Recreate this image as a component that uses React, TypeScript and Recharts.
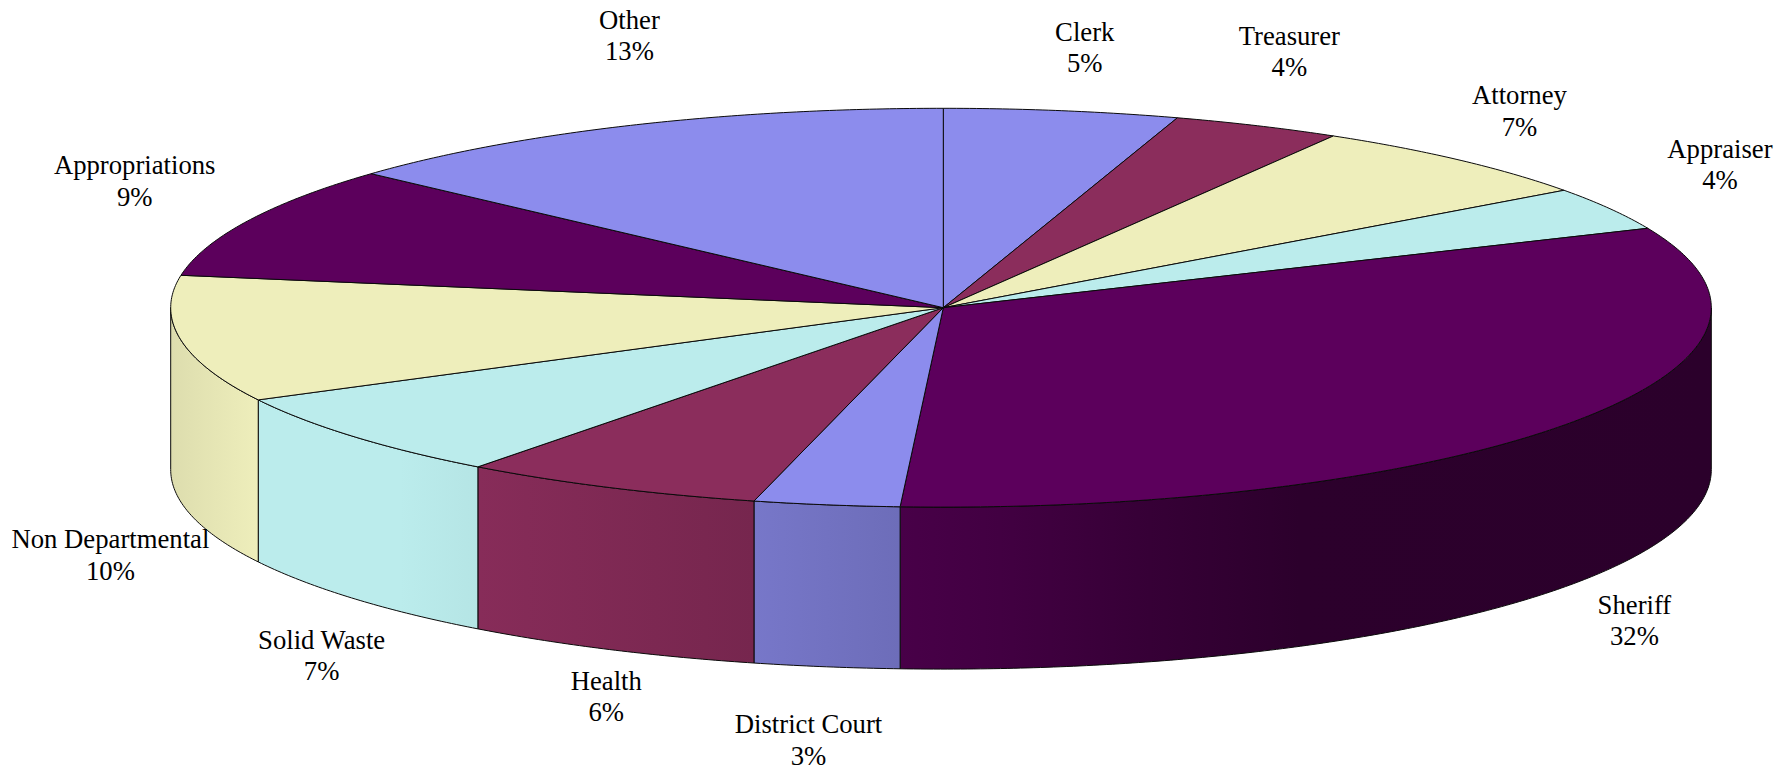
import React from "react";
import { PieChart, Pie } from "recharts";

// ---- data ----
const CATEGORIES = ["Clerk", "Treasurer", "Attorney", "Appraiser", "Sheriff", "District Court", "Health", "Solid Waste", "Non Departmental", "Appropriations", "Other"];
const SHARES = [4.93, 3.55, 6.5, 3.5, 32.41, 3.05, 6.35, 7.06, 10.25, 9.13, 13.27];
const SHARE_LABELS = ["5%", "4%", "7%", "4%", "32%", "3%", "6%", "7%", "10%", "9%", "13%"];
const COLORS = ["#8c8ced", "#8b2d5c", "#eeeebb", "#bbecec", "#5c005c"];
const SLICE_COLORS = [0, 1, 2, 3, 4, 0, 1, 3, 2, 4, 0].map((i) => COLORS[i]);

// ---- layout ----
const WIDTH = 1790;
const HEIGHT = 770;
const CX = 943.3;
const CY = 307.7;
const RADIUS = 770;
const RIGHT_SCALE = 768 / 770; // the ellipse's right half is a little narrower than its left half
const LEFT_SCALE = 772.6 / 770;
const TILT = 199.4 / 770;
const DEPTH = 162;
const FONT_SIZE = 26.7;
const LINE_GAP = 31.5;
// label centre relative to the slice's rim midpoint
const LABEL_NUDGE = [[23, -63], [32, -74], [60, -49], [110, -44], [61, 199], [-18, 235], [-3, 209], [-32, 219], [-70, 216], [-113, -40], [-1, -90]];
// side-wall lighting: [screen x, brightness]
const SHADE = [[171, 0.93], [258, 1], [400, 1], [478, 0.97], [754, 0.85], [900, 0.78], [1000, 0.72], [1150, 0.59], [1300, 0.48], [1711, 0.47]];

const rows = CATEGORIES.map((name, i) => ({ name, value: SHARES[i], share: SHARE_LABELS[i], fill: SLICE_COLORS[i] }));

const dim = (hex: string, k: number) => {
  const n = parseInt(hex.slice(1), 16);
  const c = [(n >> 16) & 255, (n >> 8) & 255, n & 255].map((v) => Math.round(v * k));
  return `rgb(${c[0]},${c[1]},${c[2]})`;
};

const rim = (cx: number, cy: number, r: number, deg: number) => {
  const a = (deg * Math.PI) / 180;
  const c = Math.cos(a);
  return [cx + r * c * (c >= 0 ? RIGHT_SCALE : LEFT_SCALE), cy - r * TILT * Math.sin(a)];
};

// points along the rim from angle a to angle b, a step of about half a degree
const rimPoints = (cx: number, cy: number, r: number, a: number, b: number) => {
  const n = Math.max(2, Math.ceil(Math.abs(b - a) * 2));
  return Array.from({ length: n + 1 }, (_, i) => rim(cx, cy, r, a + ((b - a) * i) / n));
};

const pathOf = (pts: number[][]) => pts.map(([x, y], i) => `${i ? "L" : "M"}${x.toFixed(2)},${y.toFixed(2)}`).join("");

const TopSlice = (p: any) => {
  const { cx, cy, outerRadius: r, startAngle, endAngle, fill } = p;
  return (
    <path
      d={`${pathOf([[cx, cy], ...rimPoints(cx, cy, r, startAngle, endAngle)])}Z`}
      fill={fill}
      stroke="#0a0a0a"
      strokeWidth={1}
      strokeLinejoin="round"
    />
  );
};

const WallSlice = (p: any) => {
  const { cx, cy, outerRadius: r, startAngle, endAngle, fill } = p;
  const a0 = Math.min(startAngle, 0);
  const a1 = Math.max(endAngle, -180);
  if (a0 <= a1) return <g />;
  const upper = rimPoints(cx, cy, r, a0, a1);
  const lower = rimPoints(cx, cy + DEPTH, r, a1, a0);
  const id = `wall-${String(fill).slice(1)}-${Math.round(-a0)}`;
  const lo = SHADE[0][0];
  const hi = SHADE[SHADE.length - 1][0];
  return (
    <g>
      <defs>
        <linearGradient id={id} gradientUnits="userSpaceOnUse" x1={lo} x2={hi} y1={0} y2={0}>
          {SHADE.map(([x, k]) => (
            <stop key={x} offset={(x - lo) / (hi - lo)} stopColor={dim(fill, k)} />
          ))}
        </linearGradient>
      </defs>
      <path
        d={`${pathOf([...upper, ...lower])}Z`}
        fill={`url(#${id})`}
        stroke="#0a0a0a"
        strokeWidth={1}
        strokeLinejoin="round"
      />
    </g>
  );
};

const SliceLabel = (p: any) => {
  const { cx, cy, outerRadius: r, midAngle, index, name, share, payload } = p;
  const [x, y] = rim(cx, cy, r, midAngle);
  const [dx, dy] = LABEL_NUDGE[index];
  const lx = x + dx;
  const ly = y + dy;
  return (
    <text textAnchor="middle" fontFamily="'Liberation Serif', serif" fontSize={FONT_SIZE} fill="#000">
      <tspan x={lx} y={ly - LINE_GAP / 2} dominantBaseline="central">{name ?? payload?.name}</tspan>
      <tspan x={lx} y={ly + LINE_GAP / 2} dominantBaseline="central">{share ?? payload?.share}</tspan>
    </text>
  );
};

export default function App() {
  return (
    <div style={{ position: "absolute", left: 0, top: 0, width: WIDTH, height: HEIGHT }}>
      <PieChart width={WIDTH} height={HEIGHT} margin={{ top: 0, right: 0, bottom: 0, left: 0 }}>
        <Pie
          data={rows}
          dataKey="value"
          nameKey="name"
          cx={CX}
          cy={CY}
          innerRadius={0}
          outerRadius={RADIUS}
          startAngle={90}
          endAngle={-270}
          stroke="none"
          shape={WallSlice}
          isAnimationActive={false}
          legendType="none"
        />
        <Pie
          data={rows}
          dataKey="value"
          nameKey="name"
          cx={CX}
          cy={CY}
          innerRadius={0}
          outerRadius={RADIUS}
          startAngle={90}
          endAngle={-270}
          stroke="none"
          shape={TopSlice}
          label={SliceLabel}
          labelLine={false}
          isAnimationActive={false}
          legendType="none"
        />
      </PieChart>
    </div>
  );
}
